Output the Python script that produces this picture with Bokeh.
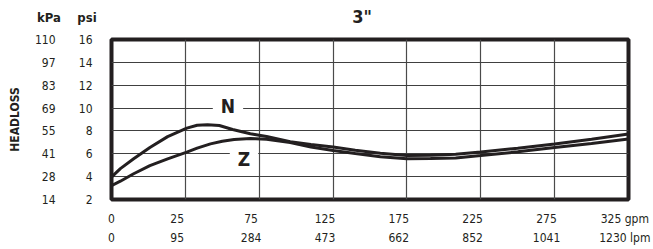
import numpy as np
from bokeh.plotting import figure
from bokeh.models import FixedTicker, LinearAxis, Label, Range1d, Grid, ColumnDataSource
from bokeh.embed import file_html
from bokeh.resources import INLINE

# ---- data ----
gpm_labels = [0, 25, 75, 125, 175, 225, 275, 325]
lpm_labels = [0, 95, 284, 473, 662, 852, 1041, 1230]
psi_ticks = [2, 4, 6, 8, 10, 12, 14, 16]
kpa_labels = [14, 28, 41, 55, 69, 83, 97, 110]

flow_n = [0, 3, 7.5, 13, 19, 26, 33, 40, 48, 57, 69, 80, 96, 110, 125, 140, 157, 175, 191, 208, 225, 250, 275, 300, 325]
head_n = [3.95, 4.7, 5.56, 6.55, 7.5, 8.25, 8.5, 8.55, 8.47, 8.13, 7.75, 7.52, 7.06, 6.82, 6.59, 6.3, 6.05, 5.85, 5.87, 5.95, 6.16, 6.48, 6.86, 7.28, 7.73]
flow_z = [0, 3, 7.5, 13, 19, 26, 33, 42, 50, 58, 69, 80, 96, 110, 125, 140, 157, 175, 191, 208, 225, 250, 275, 300, 325]
head_z = [3.22, 3.6, 4.25, 4.97, 5.56, 6.14, 6.5, 6.87, 7.1, 7.25, 7.33, 7.28, 6.98, 6.6, 6.29, 6.02, 5.75, 5.56, 5.58, 5.64, 5.85, 6.17, 6.55, 6.9, 7.29]

FONT = "'DejaVu Sans Condensed', 'Liberation Sans Narrow', sans-serif"
INK = "#231f20"

# chart's flow scale: one grid cell per tick label (0-25, then 50 gpm steps)
cells = np.arange(len(gpm_labels))
def flow_to_cell(f):
    return np.interp(f, gpm_labels, cells)

p = figure(width=653, height=249, x_range=Range1d(0, len(gpm_labels) - 1),
           y_range=Range1d(psi_ticks[0], psi_ticks[-1]),
           x_axis_location=None, y_axis_location=None,
           output_backend="svg", toolbar_location=None,
           min_border_left=111, min_border_right=25, min_border_top=39, min_border_bottom=50)
p.background_fill_color = "white"
p.border_fill_color = "white"
p.outline_line_color = INK
p.outline_line_width = 4
for g in p.grid:
    g.visible = False

p.add_layout(Grid(dimension=0, ticker=FixedTicker(ticks=list(cells[1:-1])),
                  grid_line_color="#4a4a4a", grid_line_width=1.2))
p.add_layout(Grid(dimension=1, ticker=FixedTicker(ticks=psi_ticks[1:-1]),
                  grid_line_color="#404040", grid_line_width=1.2))

def style_axis(ax, size="12px"):
    ax.axis_line_color = None
    ax.major_tick_line_color = None
    ax.minor_tick_line_color = None
    ax.major_tick_out = 0
    ax.major_tick_in = 0
    ax.major_label_text_font = FONT
    ax.major_label_text_font_size = size
    ax.major_label_text_color = INK

# x axes (label positions slightly left of the gridlines, as in the chart)
xpos = [0.0] + [float(c) - 0.11 for c in cells[1:-1]] + [float(cells[-1]) - 0.05]
gpm_txt = [str(v) for v in gpm_labels]
gpm_txt[-1] += " gpm"
lpm_txt = [str(v) for v in lpm_labels]
lpm_txt[-1] += " lpm"

ax_gpm = LinearAxis(ticker=FixedTicker(ticks=xpos),
                    major_label_overrides={x: t for x, t in zip(xpos, gpm_txt)})
style_axis(ax_gpm)
ax_gpm.major_label_standoff = 12
ax_lpm = LinearAxis(ticker=FixedTicker(ticks=xpos),
                    major_label_overrides={x: t for x, t in zip(xpos, lpm_txt)})
style_axis(ax_lpm)
ax_lpm.major_label_standoff = 2
p.add_layout(ax_gpm, "below")
p.add_layout(ax_lpm, "below")

# y axes
ax_psi = LinearAxis(ticker=FixedTicker(ticks=psi_ticks),
                    major_label_overrides={v: str(v) for v in psi_ticks})
style_axis(ax_psi)
ax_psi.major_label_standoff = 19
ax_kpa = LinearAxis(ticker=FixedTicker(ticks=psi_ticks),
                    major_label_overrides={v: str(k) for v, k in zip(psi_ticks, kpa_labels)})
style_axis(ax_kpa)
ax_kpa.major_label_standoff = 20
ax_kpa.axis_label = "HEADLOSS"
ax_kpa.axis_label_text_font = FONT
ax_kpa.axis_label_text_font_style = "bold"
ax_kpa.axis_label_text_font_size = "12px"
ax_kpa.axis_label_text_color = INK
ax_kpa.axis_label_standoff = 10
p.add_layout(ax_psi, "left")
p.add_layout(ax_kpa, "left")

# curves
src_n = ColumnDataSource(dict(x=flow_to_cell(flow_n), y=head_n))
src_z = ColumnDataSource(dict(x=flow_to_cell(flow_z), y=head_z))
p.line("x", "y", source=src_z, line_color=INK, line_width=3)
p.line("x", "y", source=src_n, line_color=INK, line_width=3)

def lab(x, y, text, size, place=None, **kw):
    l = Label(x=x, y=y, text=text, text_font=FONT, text_font_size=size,
              text_font_style="bold", text_color=INK, text_align="center",
              text_baseline="middle", **kw)
    if place is None:
        p.add_layout(l)
    else:
        p.add_layout(l, place)
    return l

ln = lab(1.577, 10.2, "N", "19px", background_fill_color="white")
lz = lab(1.794, 5.55, "Z", "19px", background_fill_color="white")
for l in (ln, lz):
    try:
        l.padding = dict(x=8, y=0)
    except Exception:
        pass
# header texts live in side panels (with room to spare) so they are not clipped
lab(3.392, 18.0, '3"', "18px", place="above")
lab(-0.846, 17.92, "kPa", "13px", place="above")
lab(-0.332, 17.92, "psi", "13px", place="right")

open("out.html", "w").write(file_html(p, INLINE))
